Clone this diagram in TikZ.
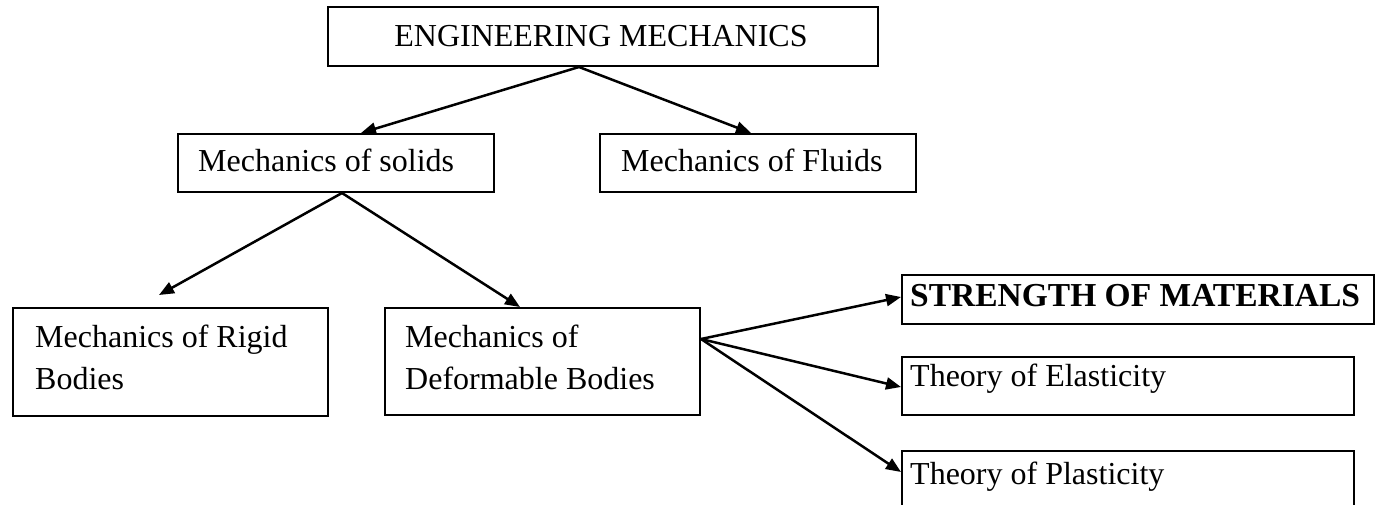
\documentclass[tikz,border=0pt]{standalone}
\usepackage{fontspec}
\setmainfont{Liberation Serif}
\usetikzlibrary{arrows.meta,calc}
\begin{document}
\begin{tikzpicture}[x=1pt,y=-1pt,
  box/.style={draw,line width=2pt,inner sep=0pt,anchor=north west},
  lbl/.style={anchor=base west,inner sep=0pt,font=\fontsize{32}{42}\selectfont},
  arr/.style={line width=2.5pt,-{Triangle[length=15pt,width=12pt]}}]
\useasboundingbox (0,0) rectangle (1379,505);
\clip (0,0) rectangle (1379,505);
\fill[white] (0,0) rectangle (1379,505);
% boxes
\node[box,minimum width=550pt,minimum height=59pt] (em) at (327,6) {};
\node[box,minimum width=316pt,minimum height=58pt] (solids) at (177,133) {};
\node[box,minimum width=316pt,minimum height=58pt] (fluids) at (599,133) {};
\node[box,minimum width=315pt,minimum height=108pt] (rigid) at (12,307) {};
\node[box,minimum width=315pt,minimum height=107pt] (deform) at (384,307) {};
\node[box,minimum width=472pt,minimum height=49pt] (strength) at (901,274) {};
\node[box,minimum width=452pt,minimum height=58pt] (elast) at (901,356) {};
\node[box,minimum width=452pt,minimum height=70pt] (plast) at (901,450) {};
% texts
\node[lbl,anchor=base] (emT) at (601,47) {ENGINEERING MECHANICS};
\node[lbl] (solidsT) at (198,172) {Mechanics of solids};
\node[lbl] (fluidsT) at (621,172) {Mechanics of Fluids};
\node[lbl] (rigidT1) at (35,347) {Mechanics of Rigid};
\node[lbl] (rigidT2) at (35,389) {Bodies};
\node[lbl] (deformT1) at (405,347) {Mechanics of};
\node[lbl] (deformT2) at (405,389) {Deformable Bodies};
\node[lbl,font=\fontsize{33.5}{42}\selectfont\bfseries] (strengthT) at (910,306) {STRENGTH OF MATERIALS};
\node[lbl] (elastT) at (910,386) {Theory of Elasticity};
\node[lbl] (plastT) at (910,484) {Theory of Plasticity};
% connectors
\draw[arr] ([xshift=252pt]em.south west) -- ([xshift=184pt]solids.north west);
\draw[arr] ([xshift=252pt]em.south west) -- ([xshift=152pt]fluids.north west);
\draw[arr] ([xshift=165pt]solids.south west) -- ($(rigid.north west)+(147,-12)$);
\draw[arr] ([xshift=165pt]solids.south west) -- ([xshift=136pt]deform.north west);
\draw[arr] ([yshift=-32pt]deform.north east) -- ([yshift=-23pt]strength.north west);
\draw[arr] ([yshift=-32pt]deform.north east) -- ([yshift=-31pt]elast.north west);
\draw[arr] ([yshift=-32pt]deform.north east) -- ([yshift=-22pt]plast.north west);
\end{tikzpicture}
\end{document}
